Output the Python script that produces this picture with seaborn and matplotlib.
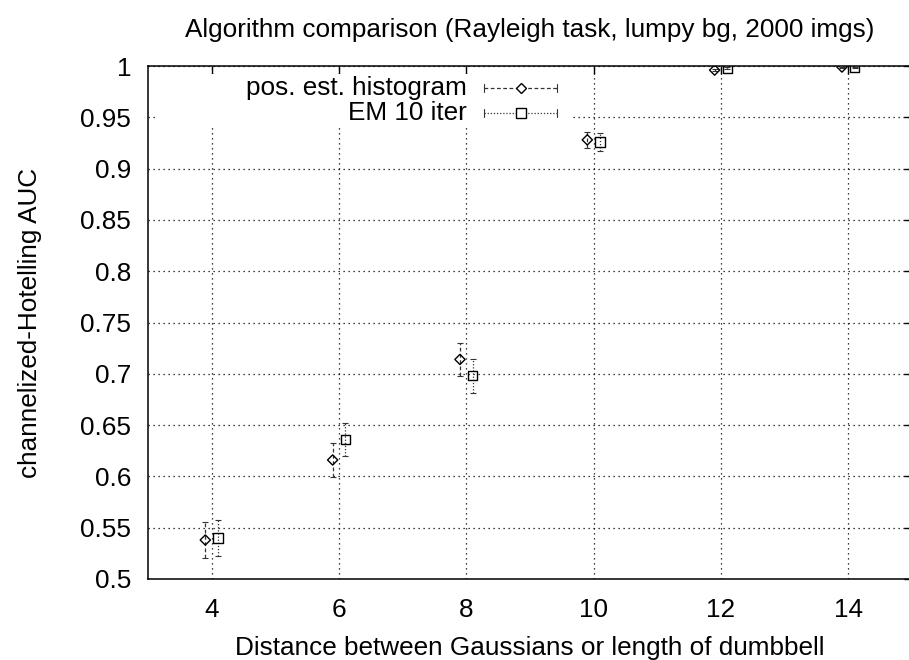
import numpy as np
import pandas as pd
import seaborn as sns
import matplotlib.pyplot as plt
from matplotlib.patches import Rectangle
from matplotlib.lines import Line2D

# Detection performance versus separation of the two Gaussians
distance = [4, 6, 8, 10, 12, 14]
hist_auc = [0.538, 0.616, 0.714, 0.928, 0.996, 0.999]
hist_err = [0.0175, 0.0165, 0.016, 0.008, 0.001, 0.0005]
em_auc = [0.540, 0.636, 0.698, 0.926, 0.998, 0.999]
em_err = [0.0175, 0.016, 0.0165, 0.009, 0.001, 0.0005]
series_names = ["pos. est. histogram", "EM 10 iter"]
x_ticks = [4, 6, 8, 10, 12, 14]
y_ticks = [0.5, 0.55, 0.6, 0.65, 0.7, 0.75, 0.8, 0.85, 0.9, 0.95, 1.0]

# small horizontal shift so the two series do not overlap
shift = {series_names[0]: -0.1, series_names[1]: 0.1}

df = pd.DataFrame({
    "distance": distance * 2,
    "auc": hist_auc + em_auc,
    "err": hist_err + em_err,
    "method": [series_names[0]] * len(distance) + [series_names[1]] * len(distance),
})
df["xpos"] = df["distance"] + df["method"].map(shift)

sns.set_theme(style="white")
plt.rcParams["font.family"] = ["Liberation Sans", "DejaVu Sans"]
FS = 18.8
plt.rcParams["font.size"] = FS

W, H = 909, 660
fig = plt.figure(figsize=(W / 100, H / 100), dpi=100)
L, R, T, B = 148, 912, 66, 579
ax = fig.add_axes([L / W, 1 - B / H, (R - L) / W, (B - T) / H])

ink = "#000000"
line_styles = {series_names[0]: (0, (3, 2)), series_names[1]: (0, (1, 1.5))}
marker_map = {series_names[0]: "D", series_names[1]: "s"}
marker_size = {series_names[0]: 5.2, series_names[1]: 6.6}

# error bars
for name in series_names:
    sub = df[df["method"] == name]
    eb = ax.errorbar(sub["xpos"], sub["auc"], yerr=sub["err"], fmt="none",
                     ecolor="#333333", elinewidth=0.9, capsize=2.3, capthick=0.8,
                     zorder=3)
    eb[2][0].set_linestyle(line_styles[name])

# markers
for name in series_names:
    sub = df[df["method"] == name]
    sns.scatterplot(data=sub, x="xpos", y="auc", marker=marker_map[name],
                    s=marker_size[name] ** 2, facecolor="none", edgecolor=ink,
                    linewidth=1.0, ax=ax, zorder=4, legend=False)

ax.set_xlim(3, 15)
ax.set_ylim(0.5, 1.0)
ax.set_xticks(x_ticks)
ax.set_xticklabels([str(v) for v in x_ticks])
ax.set_yticks(y_ticks)
ax.set_yticklabels([f"{v:g}" for v in y_ticks])

ax.grid(True, color=ink, linestyle=(0, (1, 3)), linewidth=0.9)
ax.set_axisbelow(True)
ax.tick_params(direction="in", length=6, width=1.0, color=ink,
               top=True, right=True, labelsize=FS, labelcolor=ink)
ax.tick_params(axis="y", pad=12)
ax.tick_params(axis="x", pad=14)
for sp in ax.spines.values():
    sp.set_color(ink)
    sp.set_linewidth(1.1)

# key area: blank background hiding the grid behind it
ax.add_patch(Rectangle((8 / (R - L), 1 - (126 - T) / (B - T)),
                       (572 - L - 8) / (R - L), (126 - 74) / (B - T),
                       transform=ax.transAxes, facecolor="white",
                       edgecolor="none", zorder=1.5))

def ax_x(px):
    return (px - L) / (R - L)

def ax_y(py):
    return (B - py) / (B - T)

for i, name in enumerate(series_names):
    yy = ax_y(88 + 25 * i)
    ax.text(ax_x(467), yy, name, ha="right", va="center", fontsize=FS,
            color=ink, transform=ax.transAxes, zorder=5)
    ax.add_line(Line2D([ax_x(484), ax_x(557)], [yy, yy], transform=ax.transAxes,
                       color="#333333", linewidth=0.9, linestyle=line_styles[name],
                       zorder=5))
    for ex in (484, 557):
        ax.add_line(Line2D([ax_x(ex), ax_x(ex)], [ax_y(84 + 25 * i), ax_y(92 + 25 * i)],
                           transform=ax.transAxes, color="#333333", linewidth=0.8,
                           zorder=5))
    ax.add_line(Line2D([ax_x(520.5)], [yy], transform=ax.transAxes,
                       marker=marker_map[name], markersize=marker_size[name],
                       markerfacecolor="white", markeredgecolor=ink,
                       markeredgewidth=1.0, linestyle="none", zorder=6))

ax.set_xlabel("Distance between Gaussians or length of dumbbell", fontsize=FS, color=ink)
ax.xaxis.set_label_coords(0.5, ax_y(648))
ax.xaxis.label.set_va("center")
ax.set_ylabel("channelized-Hotelling AUC", fontsize=FS, color=ink)
ax.yaxis.set_label_coords(ax_x(30), 0.5)
ax.yaxis.label.set_va("center")

fig.text(530 / W, 1 - 30 / H, "Algorithm comparison (Rayleigh task, lumpy bg, 2000 imgs)",
         ha="center", va="center", fontsize=FS, color=ink)

fig.savefig("out.png", dpi=100)
